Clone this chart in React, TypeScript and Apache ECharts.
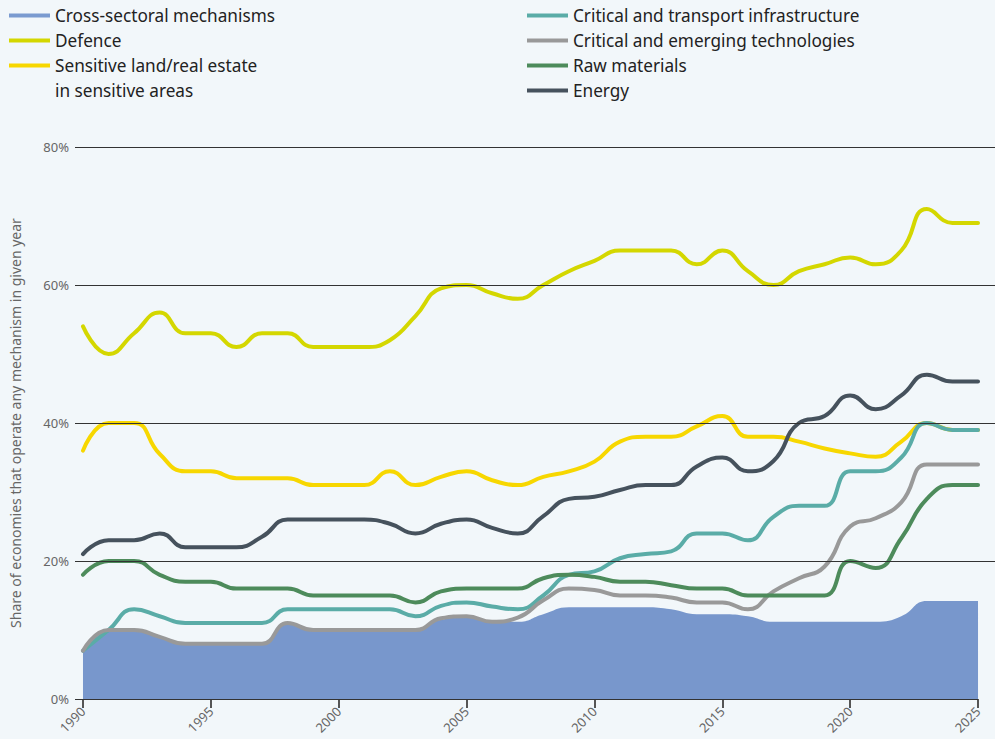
import React, { useEffect, useRef } from 'react';
import * as echarts from 'echarts';

const years = [1990, 1991, 1992, 1993, 1994, 1995, 1996, 1997, 1998, 1999, 2000, 2001, 2002, 2003, 2004, 2005, 2006, 2007, 2008, 2009, 2010, 2011, 2012, 2013, 2014, 2015, 2016, 2017, 2018, 2019, 2020, 2021, 2022, 2023, 2024, 2025];
const tickYears = [1990, 1995, 2000, 2005, 2010, 2015, 2020, 2025];
const gridValues = [20, 40, 60, 80];

const crossSectoral = [7, 10, 10, 9, 8, 8, 8, 8, 11, 10, 10, 10, 10, 10, 11.5, 11.8, 11.3, 11.2, 12.3, 13.3, 13.3, 13.3, 13.3, 13, 12.3, 12.3, 12, 11.2, 11.2, 11.2, 11.2, 11.2, 12, 14.2, 14.2, 14.2];
const defence = [54, 50, 53, 56, 53, 53, 51, 53, 53, 51, 51, 51, 52, 55.5, 59.5, 60, 58.8, 58, 60, 62, 63.5, 65, 65, 65, 63, 65, 62, 60, 62, 63, 64, 63, 65, 71, 69, 69];
const sensitiveLand = [36, 40, 40, 35.5, 33, 33, 32, 32, 32, 31, 31, 31, 33, 31, 32.2, 33, 31.7, 31, 32.2, 33, 34.4, 37.3, 38, 38, 39.5, 41, 38, 38, 37.3, 36.3, 35.6, 35.1, 37.3, 40, 39, 39];
const transportInfra = [7, 10, 13, 12, 11, 11, 11, 11, 13, 13, 13, 13, 13, 12, 13.5, 14, 13.4, 13, 15, 18, 18.5, 20.4, 21, 21.4, 24, 24, 23, 26.4, 28, 28, 33, 33, 35, 40, 39, 39];
const emergingTech = [7, 10, 10, 9, 8, 8, 8, 8, 11, 10, 10, 10, 10, 10, 11.7, 12, 11.2, 11.8, 14.3, 16, 15.8, 15, 15, 14.7, 14, 14, 13, 15.6, 17.5, 19.2, 25, 26.2, 28.5, 34, 34, 34];
const rawMaterials = [18, 20, 20, 18, 17, 17, 16, 16, 16, 15, 15, 15, 15, 14, 15.6, 16, 16, 16, 17.5, 18, 17.7, 17, 17, 16.5, 16, 16, 15, 15, 15, 15, 20, 19, 23.3, 29, 31, 31];
const energy = [21, 23, 23, 24, 22, 22, 22, 23.5, 26, 26, 26, 26, 25.4, 24, 25.4, 26, 24.8, 24, 26.5, 29, 29.3, 30.3, 31, 31, 33.7, 35, 33, 34.5, 40, 41, 44, 42, 44, 47, 46, 46];

const names = {
  cross: 'Cross-sectoral mechanisms',
  defence: 'Defence',
  land: 'Sensitive land/real estate\nin sensitive areas',
  infra: 'Critical and transport infrastructure',
  tech: 'Critical and emerging technologies',
  raw: 'Raw materials',
  energy: 'Energy',
};

const FONT = '"Noto Sans", "Open Sans", sans-serif';
const X_MIN = 1990 - 8 / 25.6;
const X_MAX = 2025 + 17 / 25.6;

const pair = (vals: number[]) => years.map((y, i) => [y, vals[i]]);

function lineSeries(name: string, color: string, vals: number[]) {
  return {
    name,
    type: 'line',
    data: pair(vals),
    smooth: 0.5,
    symbol: 'none',
    itemStyle: { color },
    lineStyle: { color, width: 4, cap: 'round', join: 'round' },
    emphasis: { disabled: true },
  };
}

export default function App() {
  const ref = useRef<HTMLDivElement>(null);
  useEffect(() => {
    if (!ref.current) return;
    const chart = echarts.init(ref.current, undefined, { renderer: 'svg' });
    const legendText = { color: '#222', fontSize: 17.2, fontFamily: FONT, lineHeight: 25 };
    chart.setOption({
      animation: false,
      backgroundColor: '#f2f7fa',
      legend: [
        {
          data: [names.cross, names.defence],
          orient: 'vertical',
          left: 9,
          top: 3,
          padding: 0,
          itemGap: 0,
          itemWidth: 41,
          itemHeight: 4,
          icon: 'rect',
          itemStyle: { borderWidth: 0 },
          textStyle: legendText,
          selectedMode: false,
        },
        {
          data: [names.land],
          orient: 'vertical',
          left: 9,
          top: 53,
          padding: 0,
          itemGap: 0,
          itemWidth: 41,
          itemHeight: 29,
          icon: 'path://M0,0L41,0L41,4L0,4ZM0,29L0.01,29',
          itemStyle: { borderWidth: 0 },
          textStyle: legendText,
          selectedMode: false,
        },
        {
          data: [names.infra, names.tech, names.raw, names.energy],
          orient: 'vertical',
          left: 527,
          top: 3,
          padding: 0,
          itemGap: 0,
          itemWidth: 41,
          itemHeight: 4,
          icon: 'rect',
          itemStyle: { borderWidth: 0 },
          textStyle: legendText,
          selectedMode: false,
        },
      ],
      grid: { left: 74, right: 0, top: 147, bottom: 40, containLabel: false },
      xAxis: {
        type: 'value',
        min: X_MIN,
        max: X_MAX,
        axisLine: { show: false },
        splitLine: { show: false },
        axisTick: {
          show: true,
          customValues: tickYears,
          length: 9,
          lineStyle: { color: '#555', width: 2 },
        },
        axisLabel: {
          customValues: tickYears,
          rotate: 45,
          margin: 10,
          color: '#666',
          fontSize: 13,
          fontFamily: FONT,
          formatter: (v: number) => String(v),
        },
      },
      yAxis: {
        type: 'value',
        min: 0,
        max: 80,
        interval: 20,
        axisLine: { show: false },
        axisTick: { show: false },
        splitLine: { show: false },
        axisLabel: {
          formatter: '{value}%',
          color: '#666',
          fontSize: 13,
          fontFamily: FONT,
          margin: 6,
        },
        name: 'Share of economies that operate any mechanism in given year',
        nameLocation: 'middle',
        nameGap: 53,
        nameTextStyle: { color: '#666', fontSize: 14, fontFamily: FONT },
      },
      series: [
        {
          name: names.cross,
          type: 'line',
          data: pair(crossSectoral),
          smooth: 0.5,
          symbol: 'none',
          itemStyle: { color: '#7b9bd0' },
          lineStyle: { width: 0, color: '#7897cc' },
          areaStyle: { color: '#7897cc', opacity: 1 },
          emphasis: { disabled: true },
          markLine: {
            silent: true,
            symbol: 'none',
            label: { show: false },
            lineStyle: { color: '#333', width: 1, type: 'solid' },
            emphasis: { disabled: true },
            data: [
              ...gridValues.map((v) => ({ yAxis: v })),
              [{ coord: [X_MIN, 0] }, { coord: [2025, 0] }],
            ],
          },
        },
        lineSeries(names.defence, '#d4d700', defence),
        lineSeries(names.land, '#f7d700', sensitiveLand),
        lineSeries(names.infra, '#5aaca7', transportInfra),
        lineSeries(names.tech, '#999999', emergingTech),
        lineSeries(names.raw, '#4d8b5b', rawMaterials),
        lineSeries(names.energy, '#46525d', energy),
      ],
    });
    return () => chart.dispose();
  }, []);
  return <div ref={ref} style={{ position: 'fixed', left: 0, top: 0, width: 995, height: 739 }} />;
}
